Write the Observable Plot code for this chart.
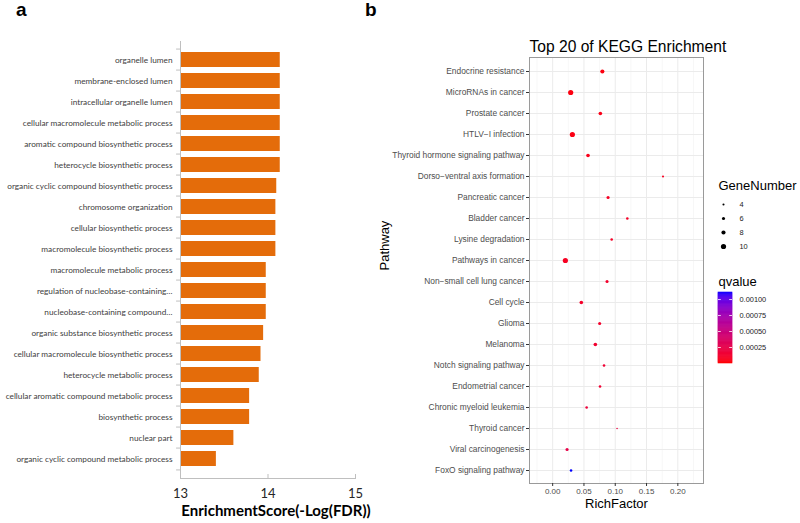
<!DOCTYPE html>
<html><head><meta charset="utf-8">
<script src="https://cdn.jsdelivr.net/npm/d3@7"></script>
<script src="https://cdn.jsdelivr.net/npm/@observablehq/plot@0.6"></script>
<style>
body{margin:0;background:#fff;}
#wrap{position:relative;width:800px;height:523px;overflow:hidden;background:#fff;}
#wrap svg{position:absolute;overflow:visible;}
.tag{position:absolute;font-family:"Liberation Sans",Arial,sans-serif;font-weight:bold;font-size:19px;line-height:19px;color:#000;}
</style></head><body>
<div id="wrap">
  <div class="tag" style="left:16px;top:0px;">a</div>
  <div class="tag" style="left:365px;top:0px;">b</div>
</div>
<script>
// ---- Panel a: GO enrichment ----
const goTerms = [
  "organelle lumen",
  "membrane-enclosed lumen",
  "intracellular organelle lumen",
  "cellular macromolecule metabolic process",
  "aromatic compound biosynthetic process",
  "heterocycle biosynthetic process",
  "organic cyclic compound biosynthetic process",
  "chromosome organization",
  "cellular biosynthetic process",
  "macromolecule biosynthetic process",
  "macromolecule metabolic process",
  "regulation of nucleobase-containing…",
  "nucleobase-containing compound…",
  "organic substance biosynthetic process",
  "cellular macromolecule biosynthetic process",
  "heterocycle metabolic process",
  "cellular aromatic compound metabolic process",
  "biosynthetic process",
  "nuclear part",
  "organic cyclic compound metabolic process"
];
const goScores = [14.14, 14.14, 14.14, 14.14, 14.14, 14.14, 14.10, 14.09, 14.09, 14.09,
                  13.98, 13.98, 13.98, 13.95, 13.92, 13.90, 13.79, 13.79, 13.61, 13.41];
const scoreTicks = [13, 14, 15];
const scoreDomain = [13, 15];

// ---- Panel b: KEGG enrichment ----
const pathways = [
  "Endocrine resistance",
  "MicroRNAs in cancer",
  "Prostate cancer",
  "HTLV\u2212I infection",
  "Thyroid hormone signaling pathway",
  "Dorso\u2212ventral axis formation",
  "Pancreatic cancer",
  "Bladder cancer",
  "Lysine degradation",
  "Pathways in cancer",
  "Non\u2212small cell lung cancer",
  "Cell cycle",
  "Glioma",
  "Melanoma",
  "Notch signaling pathway",
  "Endometrial cancer",
  "Chronic myeloid leukemia",
  "Thyroid cancer",
  "Viral carcinogenesis",
  "FoxO signaling pathway"
];
const richFactor = [0.0794, 0.0288, 0.0762, 0.0315, 0.0565, 0.1763, 0.0885, 0.1193, 0.0943, 0.0203,
                    0.0869, 0.0458, 0.0751, 0.0682, 0.0821, 0.0757, 0.0543, 0.1029, 0.0230, 0.0294];
const geneNumber = [8, 10, 7, 10, 7, 4, 6, 5, 5, 10, 6, 7, 6, 7, 5, 5, 5, 3, 6, 5];
const qValue = [0.00003, 0.00003, 0.00005, 0.00004, 0.00006, 0.00008, 0.00009, 0.0001, 0.0001, 0.00008,
                0.00012, 0.00011, 0.00012, 0.00013, 0.00015, 0.00015, 0.00018, 0.0002, 0.00024, 0.00111];
const richTicks = [0, 0.05, 0.10, 0.15, 0.20];
const richMinorTicks = [-0.025, 0.025, 0.075, 0.125, 0.175, 0.225];
const richDomain = [-0.037, 0.241];
const sizeTicks = [4, 6, 8, 10];
const qTicks = [0.00025, 0.0005, 0.00075, 0.001];
const qDomain = [0, 0.00111];

const wrap = document.getElementById("wrap");
function place(svg, left, top) {
  svg.style.left = left + "px";
  svg.style.top = top + "px";
  wrap.appendChild(svg);
}

// Panel a
const goData = goTerms.map((t, i) => ({term: t, score: goScores[i]}));
const aTop = 41, aBottom = 478, aStep = (aBottom - aTop) / goTerms.length;
const plotA = Plot.plot({
  width: 370, height: 523,
  marginLeft: 180, marginRight: 15, marginTop: aTop, marginBottom: 523 - aBottom,
  style: {fontFamily: "Lato, 'Open Sans', sans-serif", background: "transparent", overflow: "visible"},
  x: {domain: scoreDomain},
  y: {domain: goTerms, paddingInner: 0.27, paddingOuter: 0.135},
  marks: [
    Plot.barX(goData, {y: "term", x1: scoreDomain[0], x2: "score", fill: "#E46C0A"}),
    Plot.ruleX([scoreDomain[0]], {stroke: "#bfbfbf", strokeWidth: 1}),
    Plot.frame({anchor: "bottom", stroke: "#bfbfbf"}),
    Plot.ruleY(goTerms, {y: d => d, x1: 12.955, x2: scoreDomain[0], dy: -aStep / 2, stroke: "#bfbfbf"}),
    Plot.ruleY([goTerms[goTerms.length - 1]], {y: d => d, x1: 12.955, x2: scoreDomain[0], dy: aStep / 2, stroke: "#bfbfbf"}),
    Plot.axisY({tickSize: 0, tickPadding: 8, fontSize: 8.25, fill: "#404040", label: null}),
    Plot.axisX({ticks: scoreTicks, tickSize: -4, stroke: "#bfbfbf", text: null, label: null}),
    Plot.axisX({ticks: scoreTicks, tickFormat: d3.format("d"), tickSize: 0, tickPadding: 10, fontSize: 13, fill: "#262626", label: null}),
    Plot.text(["EnrichmentScore(-Log(FDR))"], {frameAnchor: "bottom", dy: 33, dx: 8, lineAnchor: "middle", fontSize: 15, fontWeight: "bold", fill: "#000"})
  ]
});
place(plotA, 0, 0);

// Panel b
const keggData = pathways.map((p, i) => ({pathway: p, rich: richFactor[i], genes: geneNumber[i], q: qValue[i]}));
const rScale = {type: "linear", domain: [0, 10], range: [0, 2.6]};
const colorScale = {type: "linear", domain: qDomain, range: ["#ff0000", "#0000ff"], interpolate: "lab"};
const sans = "'Liberation Sans', Arial, sans-serif";
const plotB = Plot.plot({
  width: 440, height: 523,
  marginLeft: 169, marginRight: 97, marginTop: 57, marginBottom: 40,
  style: {fontFamily: sans, background: "transparent", overflow: "visible"},
  x: {domain: richDomain},
  y: {type: "point", domain: pathways, padding: 0.6},
  r: rScale,
  color: colorScale,
  marks: [
    Plot.ruleX(richMinorTicks, {stroke: "#f2f2f2", strokeWidth: 0.6}),
    Plot.ruleY(pathways, {y: d => d, stroke: "#ebebeb", strokeWidth: 1}),
    Plot.ruleX(richTicks, {stroke: "#ebebeb", strokeWidth: 1}),
    Plot.dot(keggData, {x: "rich", y: "pathway", r: "genes", fill: "q"}),
    Plot.frame({stroke: "#9a9a9a"}),
    Plot.axisY({tickSize: 3, tickPadding: 2, fontSize: 8.4, fill: "#4d4d4d", stroke: "#333", label: null}),
    Plot.axisX({ticks: richTicks, tickFormat: d3.format(".2f"), tickSize: 3, tickPadding: 1.5, fontSize: 8, fill: "#4d4d4d", stroke: "#333", label: null}),
    Plot.text(["Top 20 of KEGG Enrichment"], {frameAnchor: "top-left", textAnchor: "start", lineAnchor: "bottom", dy: -6, fontSize: 15.6, fill: "#000"}),
    Plot.text(["RichFactor"], {frameAnchor: "bottom", lineAnchor: "middle", dy: 20, fontSize: 13, fill: "#000"}),
    Plot.text(["Pathway"], {frameAnchor: "left", rotate: -90, dx: -145, fontSize: 13, fill: "#000"})
  ]
});
place(plotB, 360, 0);

// Size legend
const sizeLegend = Plot.plot({
  width: 82, height: 80,
  marginTop: 28, marginBottom: 8, marginLeft: 0, marginRight: 0,
  style: {fontFamily: sans, background: "transparent", overflow: "visible"},
  y: {type: "point", domain: sizeTicks, padding: 0, axis: null},
  r: rScale,
  marks: [
    Plot.dot(sizeTicks, {y: d => d, r: d => d, frameAnchor: "left", dx: 5, fill: "#000"}),
    Plot.text(sizeTicks, {y: d => d, text: d => String(d), frameAnchor: "left", dx: 21, textAnchor: "start", fontSize: 7.4, fill: "#1a1a1a"}),
    Plot.text(["GeneNumber"], {frameAnchor: "top-left", textAnchor: "start", dy: -23, fontSize: 13, fill: "#000"})
  ]
});
place(sizeLegend, 718, 175);

// Colour legend
const qSteps = d3.range(64).map(i => [qDomain[0] + (qDomain[1] - qDomain[0]) * i / 64, qDomain[0] + (qDomain[1] - qDomain[0]) * (i + 1) / 64]);
const colorLegend = Plot.plot({
  width: 82, height: 103,
  marginTop: 27, marginBottom: 5, marginLeft: 0, marginRight: 68,
  style: {fontFamily: sans, background: "transparent", overflow: "visible"},
  x: {domain: [0, 1], axis: null},
  y: {domain: qDomain, axis: null},
  color: colorScale,
  marks: [
    Plot.rect(qSteps, {x1: 0, x2: 1, y1: d => d[0], y2: d => d[1], fill: d => (d[0] + d[1]) / 2, stroke: d => (d[0] + d[1]) / 2, strokeWidth: 0.6}),
    Plot.ruleY(qTicks, {y: d => d, x1: 0, x2: 0.2, stroke: "white", strokeWidth: 0.8}),
    Plot.ruleY(qTicks, {y: d => d, x1: 0.8, x2: 1, stroke: "white", strokeWidth: 0.8}),
    Plot.text(qTicks, {y: d => d, x: 1, dx: 7, text: d => d3.format(".5f")(d), textAnchor: "start", fontSize: 7.4, fill: "#1a1a1a"}),
    Plot.text(["qvalue"], {frameAnchor: "top-left", textAnchor: "start", dy: -16, fontSize: 13, fill: "#000"})
  ]
});
place(colorLegend, 718, 265);
</script>
</body></html>
